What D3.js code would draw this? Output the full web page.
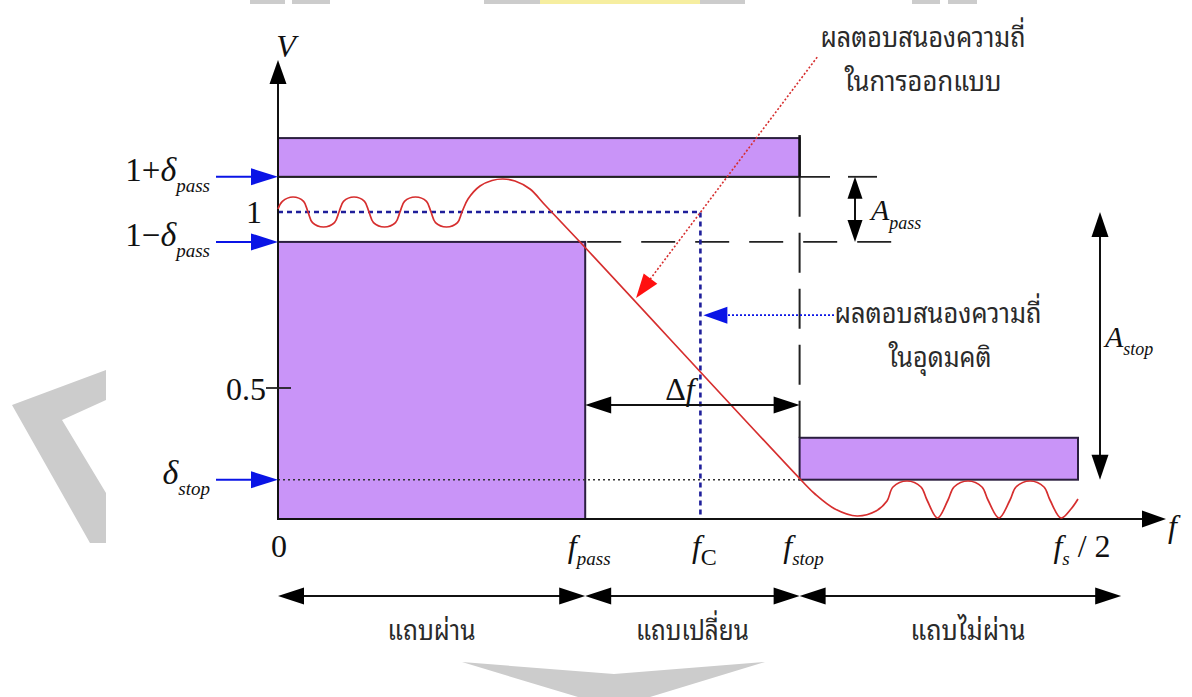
<!DOCTYPE html>
<html><head><meta charset="utf-8">
<script src="https://cdn.jsdelivr.net/npm/d3@7"></script>
<style>
html,body{margin:0;padding:0;background:#fff;}
svg{display:block;}
</style></head><body>
<svg id="chart" width="1192" height="697"></svg>
<script>
// ---------------- data ----------------
const fPass = 0.192, fC = 0.264, fStop = 0.326, fHalf = 0.5;
const freqTicks = [0, fPass, fC, fStop, fHalf];
const freqMain = ["0", "f", "f", "f", "f"];
const freqSub = ["", "pass", "C", "stop", "s"];
const freqTail = ["", "", "", "", " / 2"];

const passUpper = 1.1, passLower = 0.915, unity = 1.0, half = 0.5, stopLevel = 0.15;
const upperBandTop = 1.21, stopBandTop = 0.31;
const leftLabelValues = [passUpper, passLower, stopLevel];
const leftLabelMain = ["1+", "1−", ""];
const leftLabelSub = ["pass", "pass", "stop"];

// red (designed) frequency response
const responseF = [
  0, 0.00275, 0.009375, 0.016, 0.01875,
  0.02156, 0.02844, 0.03531, 0.038125,
  0.04094, 0.0475, 0.05406, 0.056875,
  0.05969, 0.06656, 0.07344, 0.07625,
  0.07906, 0.08594, 0.09281, 0.095625,
  0.09844, 0.10531, 0.11219, 0.115,
  0.11875, 0.12625, 0.13375, 0.140625, 0.148125, 0.1575, 0.166875, 0.18875,
  0.326875, 0.335625, 0.348125, 0.361875, 0.37375,
  0.380625, 0.384375, 0.393125, 0.401875, 0.405625, 0.4121875,
  0.41875, 0.4225, 0.43125, 0.44, 0.44375, 0.450625,
  0.4575, 0.46125, 0.47, 0.47875, 0.4825, 0.489375, 0.495625, 0.5];
const responseV = [
  1.0085, 1.0301, 1.0426, 1.0301, 1.0,
  0.9699, 0.9574, 0.9699, 1.0,
  1.0301, 1.0426, 1.0301, 1.0,
  0.9699, 0.9574, 0.9699, 1.0,
  1.0301, 1.0426, 1.0301, 1.0,
  0.9699, 0.9574, 0.9699, 1.0,
  1.0369, 1.0739, 1.0895, 1.0938, 1.088, 1.0653, 1.0199, 0.9148,
  0.1489, 0.0954, 0.0382, 0.0115, 0.0305,
  0.0687, 0.1221, 0.145, 0.1221, 0.0725, 0.0038,
  0.0725, 0.1221, 0.145, 0.1221, 0.0725, 0.0038,
  0.0725, 0.1221, 0.145, 0.1221, 0.0725, 0.0038, 0.0382, 0.0763];

const bandEdges = [0, fPass, fStop, 0.527];
const bandNames = ["แถบผ่าน", "แถบเปลี่ยน", "แถบไม่ผ่าน"];
const designText = ["ผลตอบสนองความถี่", "ในการออกแบบ"];
const idealText = ["ผลตอบสนองความถี่", "ในอุดมคติ"];
const deltaF = 0.435;          // level of the Δf arrow
const idealPointerV = 0.707;   // level of the blue pointer
const designPointer = [[0.337, 1.44], [0.2238, 0.756]];
const axisTopV = 1.432, axisEndF = 0.555;

// ---------------- scales ----------------
const svg = d3.select("#chart");
const x = d3.scaleLinear().domain([0, 0.5]).range([278, 1078]);
const y = d3.scaleLinear().domain([0, 0.5, 1]).range([519, 388, 212]);

const PURPLE = "#c994f8", EDGE = "#2b1f3f", RED = "#d62e2e", BLUE = "#0a14e6", DBLUE = "#1f1f9a";
const SERIF = "'Liberation Serif','Times New Roman',serif";
const THAI = "'Noto Sans Thai Looped','Loma','Garuda','Norasi','Kinnari','Noto Serif Thai','Noto Sans Thai','Waree','DejaVu Sans',sans-serif";

function arrowPath(tx, ty, ux, uy, len, hw) {
  const bx = tx - ux * len, by = ty - uy * len;
  const px = -uy, py = ux;
  return `M${tx},${ty}L${bx + px * hw},${by + py * hw}L${bx - px * hw},${by - py * hw}Z`;
}
function head(g, tx, ty, ux, uy, len, hw, color) {
  g.append("path").attr("d", arrowPath(tx, ty, ux, uy, len, hw)).attr("fill", color);
}

// ---------------- watermark ----------------
const wm = svg.append("g").attr("fill", "#cccccc");
wm.append("polygon").attr("points", "106,370 12,405 90,543 106,543 106,493 62,420 106,400");
wm.append("polygon").attr("points", "462,662 614,674 765,662 650,697 578,697");
[[250, 285], [292, 330], [484, 540], [700, 745], [912, 940], [948, 977]].forEach(d =>
  wm.append("rect").attr("x", d[0]).attr("y", 0).attr("width", d[1] - d[0]).attr("height", 4));
wm.append("rect").attr("x", 540).attr("y", 0).attr("width", 160).attr("height", 4).attr("fill", "#f6eea0");

// ---------------- tolerance boxes ----------------
const g = svg.append("g");
g.append("rect").attr("x", x(0)).attr("y", y(upperBandTop)).attr("width", x(fStop) - x(0))
  .attr("height", y(passUpper) - y(upperBandTop)).attr("fill", PURPLE).attr("stroke", EDGE).attr("stroke-width", 2);
g.append("rect").attr("x", x(0)).attr("y", y(passLower)).attr("width", x(fPass) - x(0))
  .attr("height", y(0) - y(passLower)).attr("fill", PURPLE).attr("stroke", EDGE).attr("stroke-width", 2);
g.append("rect").attr("x", x(fStop)).attr("y", y(stopBandTop)).attr("width", x(fHalf) - x(fStop))
  .attr("height", y(stopLevel) - y(stopBandTop)).attr("fill", PURPLE).attr("stroke", EDGE).attr("stroke-width", 2);

// level lines
g.append("line").attr("x1", x(0)).attr("x2", 830).attr("y1", y(passUpper)).attr("y2", y(passUpper))
  .attr("stroke", "#222").attr("stroke-width", 1.8);
g.append("line").attr("x1", 848).attr("x2", 877).attr("y1", y(passUpper)).attr("y2", y(passUpper))
  .attr("stroke", "#222").attr("stroke-width", 1.8);
g.append("line").attr("x1", x(fPass) + 2).attr("x2", 893).attr("y1", y(passLower)).attr("y2", y(passLower))
  .attr("stroke", "#222").attr("stroke-width", 1.8).attr("stroke-dasharray", "34,20");
g.append("line").attr("x1", x(fStop)).attr("x2", x(fStop)).attr("y1", y(passUpper)).attr("y2", y(stopBandTop))
  .attr("stroke", "#222").attr("stroke-width", 2).attr("stroke-dasharray", "40,16");
g.append("line").attr("x1", x(fStop)).attr("x2", x(fStop)).attr("y1", y(upperBandTop) - 3).attr("y2", y(passUpper))
  .attr("stroke", "#111").attr("stroke-width", 2.5);
// δstop dotted
g.append("line").attr("x1", x(0)).attr("x2", x(fStop)).attr("y1", y(stopLevel)).attr("y2", y(stopLevel))
  .attr("stroke", "#333").attr("stroke-width", 1.5).attr("stroke-dasharray", "2,3");
// ideal response (blue dotted)
g.append("path").attr("d", `M${x(0)},${y(unity)}H${x(fC)}V${y(0)}`).attr("fill", "none")
  .attr("stroke", DBLUE).attr("stroke-width", 2.6).attr("stroke-dasharray", "5,4");

// axes
g.append("line").attr("x1", x(0)).attr("x2", x(0)).attr("y1", y(axisTopV) + 22).attr("y2", y(0) + 1)
  .attr("stroke", "#111").attr("stroke-width", 2);
head(g, x(0), y(axisTopV), 0, -1, 24, 8.5, "#000");
g.append("line").attr("x1", x(0)).attr("x2", x(axisEndF) - 20).attr("y1", y(0)).attr("y2", y(0))
  .attr("stroke", "#111").attr("stroke-width", 2);
head(g, x(axisEndF), y(0), 1, 0, 24, 8.5, "#000");
g.append("line").attr("x1", x(0) - 12).attr("x2", x(0) + 13).attr("y1", y(half)).attr("y2", y(half))
  .attr("stroke", "#222").attr("stroke-width", 1.8);

// response curve
const line = d3.line().x((d, i) => x(responseF[i])).y((d, i) => y(responseV[i])).curve(d3.curveCatmullRom.alpha(0.5));
g.append("path").attr("d", line(responseF)).attr("fill", "none").attr("stroke", RED).attr("stroke-width", 1.7);

// left blue arrows
leftLabelValues.forEach(v => {
  g.append("line").attr("x1", 216).attr("x2", x(0) - 20).attr("y1", y(v)).attr("y2", y(v))
    .attr("stroke", BLUE).attr("stroke-width", 2);
  head(g, x(0), y(v), 1, 0, 27, 8.5, BLUE);
});

// double arrows
function dbl(x1, y1, x2, y2, len, hw) {
  const L = Math.hypot(x2 - x1, y2 - y1), ux = (x2 - x1) / L, uy = (y2 - y1) / L;
  g.append("line").attr("x1", x1 + ux * len * 0.8).attr("y1", y1 + uy * len * 0.8)
    .attr("x2", x2 - ux * len * 0.8).attr("y2", y2 - uy * len * 0.8).attr("stroke", "#111").attr("stroke-width", 2);
  head(g, x1, y1, -ux, -uy, len, hw, "#000");
  head(g, x2, y2, ux, uy, len, hw, "#000");
}
dbl(855, y(passUpper), 855, y(passLower), 22, 7.5);
dbl(1100, y(unity), 1100, y(stopLevel), 25, 8.5);
dbl(x(fPass), y(deltaF), x(fStop), y(deltaF), 26, 8.5);
for (let i = 0; i < bandNames.length; i++) dbl(x(bandEdges[i]), 596, x(bandEdges[i + 1]), 596, 26, 8.5);

// red pointer
{
  const [p0, p1] = designPointer;
  const x0 = x(p0[0]), y0 = y(p0[1]), x1 = x(p1[0]), y1 = y(p1[1]);
  const L = Math.hypot(x1 - x0, y1 - y0), ux = (x1 - x0) / L, uy = (y1 - y0) / L;
  g.append("line").attr("x1", x0).attr("y1", y0).attr("x2", x1 - ux * 20).attr("y2", y1 - uy * 20)
    .attr("stroke", RED).attr("stroke-width", 1.6).attr("stroke-dasharray", "2,2");
  head(g, x1, y1, ux, uy, 24, 8.5, "#ff1010");
}
// blue pointer
g.append("line").attr("x1", 834).attr("x2", x(fC) + 24).attr("y1", y(idealPointerV)).attr("y2", y(idealPointerV))
  .attr("stroke", BLUE).attr("stroke-width", 1.6).attr("stroke-dasharray", "2,2");
head(g, x(fC) + 3, y(idealPointerV), -1, 0, 24, 8.5, BLUE);

// ---------------- text ----------------
const t = svg.append("g").attr("font-family", SERIF).attr("fill", "#111");
function sublabel(px, py, anchor, parts) {
  const tx = t.append("text").attr("x", px).attr("y", py).attr("text-anchor", anchor);
  parts.forEach(p => {
    const s = tx.append("tspan").text(p.s).attr("font-size", p.size || 32)
      .attr("font-style", p.it ? "italic" : "normal");
    if (p.dy) s.attr("dy", p.dy);
  });
  return tx;
}
// left labels
leftLabelValues.forEach((v, i) => {
  sublabel(210, y(v) + 4, "end", [
    { s: leftLabelMain[i], size: 33 }, { s: "δ", it: true, size: 34 }, { s: leftLabelSub[i], it: true, size: 19, dy: 11 }]);
});
sublabel(262, y(unity) + 11, "end", [{ s: "1" }]);
sublabel(266, y(half) + 12, "end", [{ s: "0.5" }]);
sublabel(286, 57, "middle", [{ s: "V", it: true }]);
sublabel(1168, 537, "start", [{ s: "f", it: true }]);
// frequency labels
freqTicks.forEach((f, i) => {
  const parts = [{ s: freqMain[i], it: i > 0 }];
  if (freqSub[i]) parts.push({ s: freqSub[i], it: i !== 2, size: i === 2 ? 24 : 19, dy: 8 });
  if (freqTail[i]) parts.push({ s: freqTail[i], dy: -8 });
  sublabel(x(f) + (i === 0 ? 1 : 4), 557, "middle", parts);
});
sublabel(680, 400, "middle", [{ s: "Δ" }, { s: "f", it: true }]);
sublabel(871, 220, "start", [{ s: "A", it: true, size: 30 }, { s: "pass", it: true, size: 18, dy: 9 }]);
sublabel(1105, 347, "start", [{ s: "A", it: true, size: 30 }, { s: "stop", it: true, size: 18, dy: 8 }]);

// Thai text
const th = svg.append("g").attr("font-family", THAI).attr("fill", "#2a2a2a").attr("font-size", 28);
function thai(str, cx, by, w) {
  th.append("text").attr("x", cx - w / 2).attr("y", by).text(str)
    .attr("textLength", w).attr("lengthAdjust", "spacingAndGlyphs");
}
thai(designText[0], 923, 47, 205);
thai(designText[1], 923, 91, 157);
thai(idealText[0], 938, 323, 207);
thai(idealText[1], 940, 367, 103);
const bandW = [88, 113, 115];
bandNames.forEach((n, i) => {
  const cx = i === 2 ? 968 : (x(bandEdges[i]) + x(bandEdges[i + 1])) / 2;
  thai(n, cx, 640, bandW[i]);
});
</script>
</body></html>
